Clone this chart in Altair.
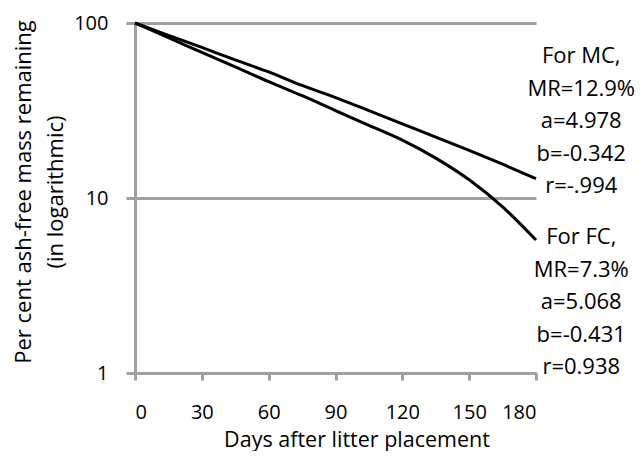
import altair as alt
import pandas as pd

# ---- data ----
days = [0, 15, 30, 45, 60, 75, 90, 105, 120, 135, 150, 165, 180]
mc_values = [100, 85, 72.5, 61.5, 52.5, 44, 37.5, 31.6, 26.5, 22.3, 18.7, 15.6, 12.9]
fc_values = [100, 82.4, 68, 56.1, 46.2, 38.4, 31.6, 26, 21.4, 16.9, 12.7, 8.9, 5.75]

x_ticks = [0, 30, 60, 90, 120, 150, 180]
y_ticks = [1, 10, 100]

mc_note = ["For MC,", "MR=12.9%", "a=4.978", "b=-0.342", "r=-.994"]
fc_note = ["For FC,", "MR=7.3%", "a=5.068", "b=-0.431", "r=0.938"]

# annotation anchors (data coordinates of each block's first line)
note_day = 200.3
mc_note_value = 64.5
fc_note_value = 5.96

FONT = "Open Sans"
GRAY = "#A0A0A0"

rows = []
for d, v in zip(days, mc_values):
    rows.append({"day": d, "value": v, "series": "MC"})
for d, v in zip(days, fc_values):
    rows.append({"day": d, "value": v, "series": "FC"})
df = pd.DataFrame(rows)

notes = pd.DataFrame({
    "day": [note_day, note_day],
    "value": [mc_note_value, fc_note_value],
    "text": ["\n".join(mc_note), "\n".join(fc_note)],
})

x_scale = alt.Scale(domain=[0, 180], nice=False)
y_scale = alt.Scale(type="log", domain=[1, 100], nice=False)

lines = alt.Chart(df).mark_line(
    color="black", strokeWidth=3, interpolate="monotone"
).encode(
    x=alt.X("day:Q", scale=x_scale, axis=alt.Axis(
        values=x_ticks, grid=False, title="Days after litter placement",
        domainColor=GRAY, domainWidth=3, tickColor=GRAY, tickWidth=3, tickSize=7,
        labelFontSize=20, labelFont=FONT, labelColor="black", labelPadding=22,
        titleFontSize=21.5, titleFont=FONT, titleFontWeight="normal", titleColor="black",
        titleX=221.5, titleY=73, titleBaseline="alphabetic", titleAnchor="middle",
    )),
    y=alt.Y("value:Q", scale=y_scale, axis=alt.Axis(
        values=y_ticks, format="d", grid=True, gridColor=GRAY, gridWidth=3,
        title=["Per cent ash-free mass remaining", "(in logarithmic)"],
        domainColor=GRAY, domainWidth=3, tickColor=GRAY, tickWidth=3, tickSize=9,
        labelFontSize=20, labelFont=FONT, labelColor="black", labelPadding=18,
        titleFontSize=22, titleFont=FONT, titleFontWeight="normal", titleColor="black",
        titleLineHeight=32, titleX=-112, titleY=168.5, titleBaseline="middle",
        titleAngle=270, titleAlign="center",
    )),
    detail="series:N",
)

text = alt.Chart(notes).mark_text(
    font=FONT, fontSize=22, color="black", lineBreak="\n", lineHeight=32.5,
    align="center", baseline="middle",
).encode(
    x=alt.X("day:Q", scale=x_scale),
    y=alt.Y("value:Q", scale=y_scale),
    text="text:N",
)

chart = alt.layer(lines, text).properties(
    width=401, height=350,
    autosize=alt.AutoSizeParams(type="none"),
    padding={"left": 127, "top": 15, "right": 100, "bottom": 78},
).configure_view(stroke=None)

chart.save("out.html", embed_options={"renderer": "svg", "actions": False})
